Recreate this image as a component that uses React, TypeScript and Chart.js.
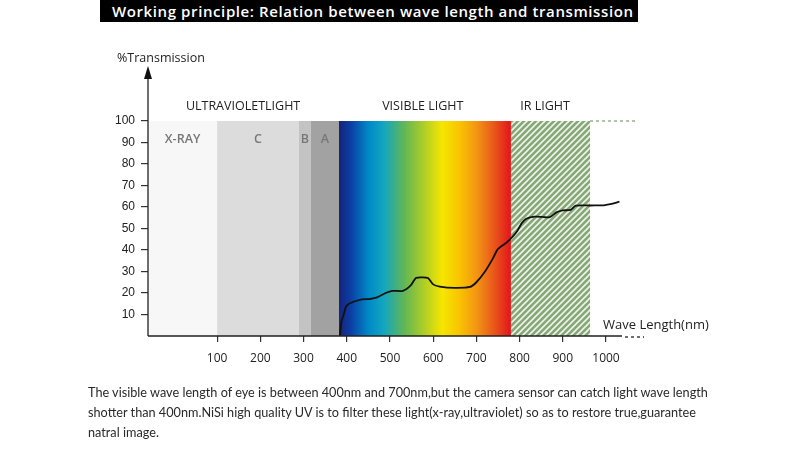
import React, { useEffect, useRef } from 'react';
import { Chart, registerables } from 'chart.js';
Chart.register(...registerables);

// Transmission curve (nm -> %)
const wavelengths = [384, 388, 393, 398, 405, 430, 455, 470, 490, 505, 530, 548, 560, 575, 588, 600, 615, 650, 685, 700, 720, 738, 750, 770, 785, 795, 805, 815, 835, 870, 885, 900, 918, 930, 965, 995, 1013, 1031];
const transmission = [0, 7, 10, 13.5, 15, 16.8, 17.3, 18, 20, 21, 21, 23.5, 27, 27.3, 27, 24, 23, 22.4, 22.8, 25, 30, 36, 40.5, 43.5, 46.5, 49, 52.5, 54.5, 55.5, 55.3, 57.5, 58.4, 58.7, 60.6, 60.7, 60.8, 61.4, 62.5];

const xTickValues = [100, 200, 300, 400, 500, 600, 700, 800, 900, 1000];
const yTickValues = [10, 20, 30, 40, 50, 60, 70, 80, 90, 100];

// band boundaries (nm): X-RAY | C | B | A | VISIBLE | IR
const bandEdges = [-60, 100, 289, 317, 382, 780, 963];
const uvBandLabels = ['X-RAY', 'C', 'B', 'A'];
const regionLabels = ['ULTRAVIOLETLIGHT', 'VISIBLE LIGHT', 'IR LIGHT'];
const regionCenters = [160, 576, 859];
const irDashEnd = 1069;

export default function App() {
  const ref = useRef<HTMLCanvasElement>(null);
  useEffect(() => {
    const canvas = ref.current!;
    const tile = document.createElement('canvas');
    tile.width = 6; tile.height = 6;
    const t = tile.getContext('2d')!;
    t.fillStyle = '#86a776';
    t.fillRect(0, 0, 6, 6);
    t.strokeStyle = '#eef4ea';
    t.lineWidth = 1.6;
    t.beginPath();
    t.moveTo(-3, 3); t.lineTo(3, -3);
    t.moveTo(0, 6); t.lineTo(6, 0);
    t.moveTo(3, 9); t.lineTo(9, 3);
    t.stroke();
    const hatch = canvas.getContext('2d')!.createPattern(tile, 'repeat');

    const bandColors = ['#f7f7f7', '#dcdcdc', '#c3c3c3', '#a2a2a2'];

    const plugin = {
      id: 'bands',
      beforeDatasetsDraw(chart: any) {
        const { ctx, chartArea, scales } = chart;
        const { top, bottom } = chartArea;
        const x = scales.x;
        const px = bandEdges.map((v) => x.getPixelForValue(v));
        ctx.save();
        for (let i = 0; i < 4; i++) {
          ctx.fillStyle = bandColors[i];
          ctx.fillRect(px[i], top, px[i + 1] - px[i], bottom - top);
        }
        // visible spectrum
        const g = ctx.createLinearGradient(px[4], 0, px[5], 0);
        const stops: [number, string][] = [
          [0, '#16237a'], [0.07, '#0b3fa6'], [0.17, '#0088c6'], [0.26, '#12a6c0'],
          [0.38, '#62b655'], [0.5, '#b2cf25'], [0.6, '#f6e600'], [0.7, '#f9c400'],
          [0.8, '#f39514'], [0.9, '#e9581a'], [1, '#e2141b'],
        ];
        stops.forEach(([o, c]) => g.addColorStop(o, c));
        ctx.fillStyle = g;
        ctx.fillRect(px[4], top, px[5] - px[4], bottom - top);
        // IR hatch
        ctx.fillStyle = hatch;
        ctx.fillRect(px[5], top, px[6] - px[5], bottom - top);
        // band labels
        ctx.fillStyle = '#777';
        ctx.font = '600 12.5px "Open Sans"';
        ctx.textAlign = 'center';
        ctx.textBaseline = 'middle';
        const ly = scales.y.getPixelForValue(91.6);
        for (let i = 0; i < 4; i++) {
          ctx.fillText(uvBandLabels[i], (px[i] + px[i + 1]) / 2, ly);
        }
        ctx.restore();
      },
      afterDraw(chart: any) {
        const { ctx, chartArea, scales } = chart;
        const { left, right, top, bottom } = chartArea;
        const x = scales.x;
        ctx.save();
        ctx.strokeStyle = '#222';
        ctx.lineWidth = 1.3;
        // axes
        ctx.beginPath();
        ctx.moveTo(left, bottom);
        ctx.lineTo(right, bottom);
        ctx.moveTo(left, bottom);
        ctx.lineTo(left, top - 48);
        ctx.stroke();
        // arrow
        ctx.fillStyle = '#111';
        ctx.beginPath();
        ctx.moveTo(left, top - 55);
        ctx.lineTo(left - 4, top - 42);
        ctx.lineTo(left + 4, top - 42);
        ctx.closePath();
        ctx.fill();
        // dotted extension of x axis
        ctx.setLineDash([3, 3]);
        ctx.beginPath();
        ctx.moveTo(right + 3, bottom + 1);
        ctx.lineTo(right + 22, bottom + 1);
        ctx.stroke();
        // dashed 100% line after IR
        ctx.strokeStyle = '#7f9e70';
        ctx.lineWidth = 1.2;
        ctx.beginPath();
        ctx.moveTo(x.getPixelForValue(bandEdges[6]), top);
        ctx.lineTo(x.getPixelForValue(irDashEnd), top);
        ctx.stroke();
        ctx.setLineDash([]);
        // texts
        ctx.fillStyle = '#222';
        ctx.font = '12.5px "Open Sans"';
        ctx.textBaseline = 'middle';
        ctx.textAlign = 'center';
        const hy = top - 15;
        regionLabels.forEach((l, i) => ctx.fillText(l, x.getPixelForValue(regionCenters[i]), hy));
        ctx.textAlign = 'left';
        ctx.fillText('%Transmission', 117, 58);
        ctx.font = '13px "Open Sans"';
        ctx.fillText('Wave Length(nm)', 603, 325);
        ctx.restore();
      },
    };

    const chart = new Chart(canvas, {
      type: 'line',
      data: {
        datasets: [{
          data: wavelengths.map((w, i) => ({ x: w, y: transmission[i] })),
          borderColor: '#111',
          borderWidth: 1.8,
          pointRadius: 0,
          tension: 0.25,
          fill: false,
        }],
      },
      options: {
        animation: false,
        responsive: true,
        maintainAspectRatio: false,
        layout: { padding: { left: 0, right: 168, top: 121, bottom: 0 } },
        plugins: { legend: { display: false }, tooltip: { enabled: false } },
        scales: {
          x: {
            type: 'linear',
            min: -60,
            max: 1037,
            afterBuildTicks: (s: any) => { s.ticks = xTickValues.map((v) => ({ value: v })); },
            afterFit: (s: any) => { s.height = 119; },
            grid: { drawOnChartArea: false, drawTicks: true, tickLength: 6, color: '#333', lineWidth: 1.2 },
            border: { display: false },
            ticks: {
              padding: 9, color: '#222', font: { family: 'Open Sans', size: 12 }, maxRotation: 0, autoSkip: false,
              callback: (v: any) => String(v),
            },
          },
          y: {
            min: 0,
            max: 100,
            afterBuildTicks: (s: any) => { s.ticks = yTickValues.map((v) => ({ value: v })); },
            afterFit: (s: any) => { s.width = 148; },
            grid: { drawOnChartArea: false, drawTicks: true, tickLength: 7, color: '#333', lineWidth: 1.2 },
            border: { display: false },
            ticks: { padding: 6, color: '#222', font: { family: 'Liberation Sans', size: 12 }, autoSkip: false },
          },
        },
      },
      plugins: [plugin],
    });
    return () => chart.destroy();
  }, []);

  return (
    <div style={{ position: 'fixed', left: 0, top: 0, width: 790, height: 455, background: '#fff' }}>
      <canvas ref={ref} style={{ position: 'absolute', left: 0, top: 0, width: 790, height: 455 }} />
      <div style={{
        position: 'absolute', left: 100, top: 0, width: 538, height: 22, background: '#000', color: '#fff',
        fontFamily: '"Open Sans", sans-serif', fontSize: 15, fontWeight: 600, letterSpacing: 0.6, lineHeight: '22px',
        paddingLeft: 12, boxSizing: 'border-box', whiteSpace: 'nowrap', overflow: 'hidden',
      }}>
        Working principle: Relation between wave length and transmission
      </div>
      <div style={{
        position: 'absolute', left: 88, top: 382, fontFamily: 'Lato, sans-serif', fontSize: 12.7,
        lineHeight: '20px', color: '#2a2a2a', whiteSpace: 'nowrap',
      }}>
        The visible wave length of eye is between 400nm and 700nm,but the camera sensor can catch light wave length<br />
        shotter than 400nm.NiSi high quality UV is to filter these light(x-ray,ultraviolet) so as to restore true,guarantee<br />
        natral image.
      </div>
    </div>
  );
}
